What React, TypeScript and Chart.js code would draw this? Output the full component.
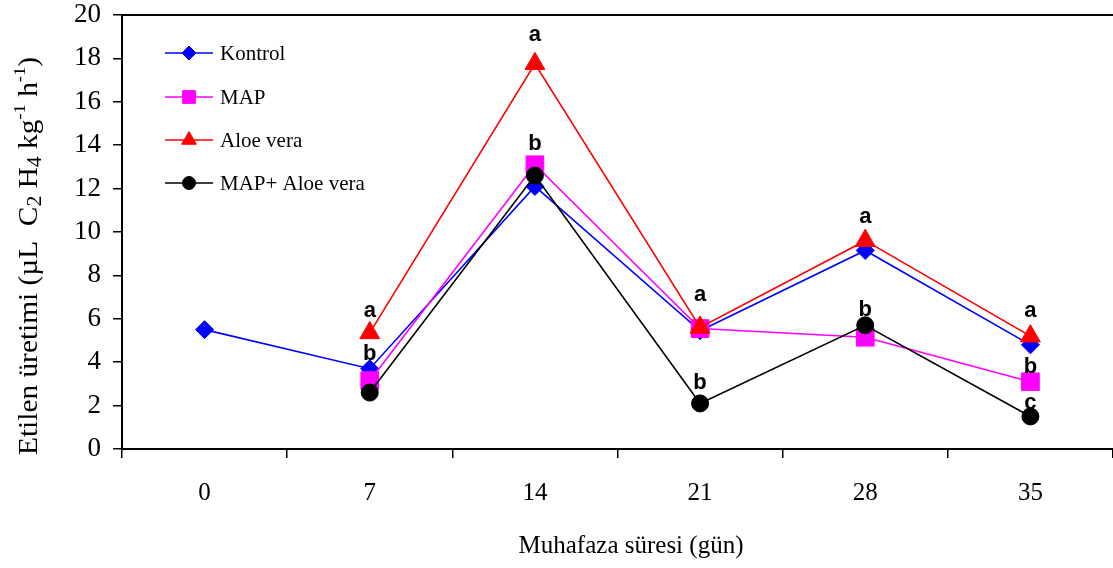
import React, { useEffect, useRef } from 'react';
import { Chart, registerables } from 'chart.js';
import { drawPoint } from 'chart.js/helpers';

Chart.register(...registerables);

// ---- data ----
const categories = ['0', '7', '14', '21', '28', '35'];
const kontrol = [5.5, 3.7, 12.1, 5.45, 9.15, 4.8];
const mapValues = [null, 3.15, 13.1, 5.55, 5.15, 3.1];
const aloeVera = [null, 5.35, 17.75, 5.6, 9.6, 5.2];
const mapAloeVera = [null, 2.6, 12.6, 2.1, 5.7, 1.5];
const seriesNames = ['Kontrol', 'MAP', 'Aloe vera', 'MAP+ Aloe vera'];

// significance letters and the value level at which each is written
const lettersRowA = ['', 'a', 'a', 'a', 'a', 'a'];
const lettersRowAY = [null, 6.35, 19.1, 7.1, 10.7, 6.35];
const lettersRowB = ['', 'b', 'b', 'b', 'b', 'b'];
const lettersRowBY = [null, 4.4, 14.05, 3.05, 6.4, 3.8];
const lettersRowC = ['', '', '', '', '', 'c'];
const lettersRowCY = [null, null, null, null, null, 2.1];

const yMin = 0;
const yMax = 20;
const yStep = 2;

const xTitle = 'Muhafaza süresi (gün)';
// y title pieces: [text, kind]
const yTitleParts: [string, string][] = [
  ['Etilen üretimi (µL  C', 'n'],
  ['2', 'sub'],
  [' H', 'n'],
  ['4', 'sub'],
  [' kg', 'n'],
  ['-1', 'sup'],
  [' h', 'n'],
  ['-1', 'sup'],
  [')', 'n'],
];

const colors = ['#0000FF', '#FF00FF', '#FF0000', '#000000'];
const pointStyles = ['rectRot', 'rect', 'triangle', 'circle'];
const pointRadii = [9, 12.5, 11.5, 8.5];
const legendRadii = [7, 9, 8.5, 6.5];

const SERIF = '"Liberation Serif", "Times New Roman", serif';
const SANS = '"Liberation Sans", Arial, sans-serif';

const decorPlugin = {
  id: 'decor',
  afterDatasetsDraw(chart: any) {
    const ctx = chart.ctx;
    const xs = chart.scales.x;
    const ys = chart.scales.y;
    ctx.save();
    ctx.fillStyle = '#000';
    ctx.font = `bold 22px ${SANS}`;
    ctx.textAlign = 'center';
    ctx.textBaseline = 'middle';
    const rows: [string[], (number | null)[]][] = [
      [lettersRowA, lettersRowAY],
      [lettersRowB, lettersRowBY],
      [lettersRowC, lettersRowCY],
    ];
    rows.forEach(([txt, vals]) => {
      txt.forEach((t, i) => {
        const v = vals[i];
        if (!t || v == null) return;
        ctx.fillText(t, xs.getPixelForValue(i), ys.getPixelForValue(v));
      });
    });
    ctx.restore();
  },
  afterDraw(chart: any) {
    const ctx = chart.ctx;
    const ca = chart.chartArea;
    ctx.save();
    // top frame line
    ctx.strokeStyle = '#000';
    ctx.lineWidth = 2;
    ctx.beginPath();
    ctx.moveTo(ca.left - 1, ca.top);
    ctx.lineTo(ca.right, ca.top);
    ctx.stroke();

    // legend
    const legendY = [53, 97, 140, 183];
    seriesNames.forEach((name, i) => {
      const y = legendY[i];
      ctx.strokeStyle = colors[i];
      ctx.fillStyle = colors[i];
      ctx.lineWidth = 1.6;
      ctx.beginPath();
      ctx.moveTo(165, y);
      ctx.lineTo(213, y);
      ctx.stroke();
      ctx.lineWidth = 1;
      drawPoint(ctx, { pointStyle: pointStyles[i], radius: legendRadii[i], rotation: 0, borderWidth: 1 } as any, 189, y);
      ctx.fillStyle = '#000';
      ctx.font = `21px ${SERIF}`;
      ctx.textAlign = 'left';
      ctx.textBaseline = 'middle';
      ctx.fillText(name, 220, y + 1);
    });

    // x title
    ctx.fillStyle = '#000';
    ctx.font = `25px ${SERIF}`;
    ctx.textAlign = 'center';
    ctx.textBaseline = 'alphabetic';
    ctx.fillText(xTitle, 631, 553);

    // y title (rotated, with sub/superscripts), stretched to its span
    const fontFor = (kind: string) => (kind === 'sub' ? 20 : kind === 'sup' ? 17 : 27);
    const offFor = (kind: string) => (kind === 'sub' ? 4 : kind === 'sup' ? -12 : 0);
    let total = 0;
    yTitleParts.forEach(([t, kind]) => {
      ctx.font = `${fontFor(kind)}px ${SERIF}`;
      total += ctx.measureText(t).width;
    });
    const span = 398;
    ctx.translate(37, 455);
    ctx.rotate(-Math.PI / 2);
    ctx.scale(span / total, 1);
    ctx.textAlign = 'left';
    let u = 0;
    yTitleParts.forEach(([t, kind]) => {
      ctx.font = `${fontFor(kind)}px ${SERIF}`;
      ctx.fillText(t, u, offFor(kind));
      u += ctx.measureText(t).width;
    });
    ctx.restore();
  },
};

const noPadding = (s: any) => {
  s.paddingTop = 0;
  s.paddingBottom = 0;
  s.paddingLeft = 0;
  s.paddingRight = 0;
};

export default function App() {
  const ref = useRef<HTMLCanvasElement>(null);
  useEffect(() => {
    document.body.style.margin = '0';
    const series = [kontrol, mapValues, aloeVera, mapAloeVera];
    const chart = new Chart(ref.current as HTMLCanvasElement, {
      type: 'line',
      data: {
        labels: categories,
        datasets: series.map((d, i) => ({
          label: seriesNames[i],
          data: d,
          borderColor: colors[i],
          backgroundColor: colors[i],
          pointBackgroundColor: colors[i],
          pointBorderColor: colors[i],
          pointStyle: pointStyles[i] as any,
          pointRadius: pointRadii[i],
          pointBorderWidth: 1,
          borderWidth: 1.6,
          tension: 0,
          fill: false,
          order: 4 - i,
        })),
      },
      options: {
        responsive: false,
        animation: false,
        events: [],
        layout: { autoPadding: false, padding: { top: 15, left: 0, right: 0, bottom: 0 } },
        plugins: {
          legend: { display: false },
          tooltip: { enabled: false },
          title: { display: false },
        },
        scales: {
          x: {
            type: 'category',
            offset: true,
            grid: {
              offset: true,
              drawOnChartArea: false,
              drawTicks: true,
              tickLength: 9,
              color: '#000',
              lineWidth: 1.5,
            },
            border: { display: true, color: '#000', width: 2 },
            ticks: {
              color: '#000',
              font: { family: SERIF, size: 25 },
              padding: 20,
              maxRotation: 0,
            },
            afterFit: (s: any) => { s.height = 119; noPadding(s); },
          },
          y: {
            type: 'linear',
            min: yMin,
            max: yMax,
            ticks: {
              stepSize: yStep,
              color: '#000',
              font: { family: SERIF, size: 27 },
              padding: 12,
            },
            grid: {
              drawOnChartArea: false,
              drawTicks: true,
              tickLength: 9,
              color: '#000',
              lineWidth: 1.5,
            },
            border: { display: true, color: '#000', width: 2 },
            afterFit: (s: any) => { s.width = 122; noPadding(s); },
          },
        },
      },
      plugins: [decorPlugin],
    });
    return () => chart.destroy();
  }, []);
  return (
    <div style={{ width: 1113, height: 568 }}>
      <canvas ref={ref} width={1113} height={568} style={{ display: 'block' }} />
    </div>
  );
}
